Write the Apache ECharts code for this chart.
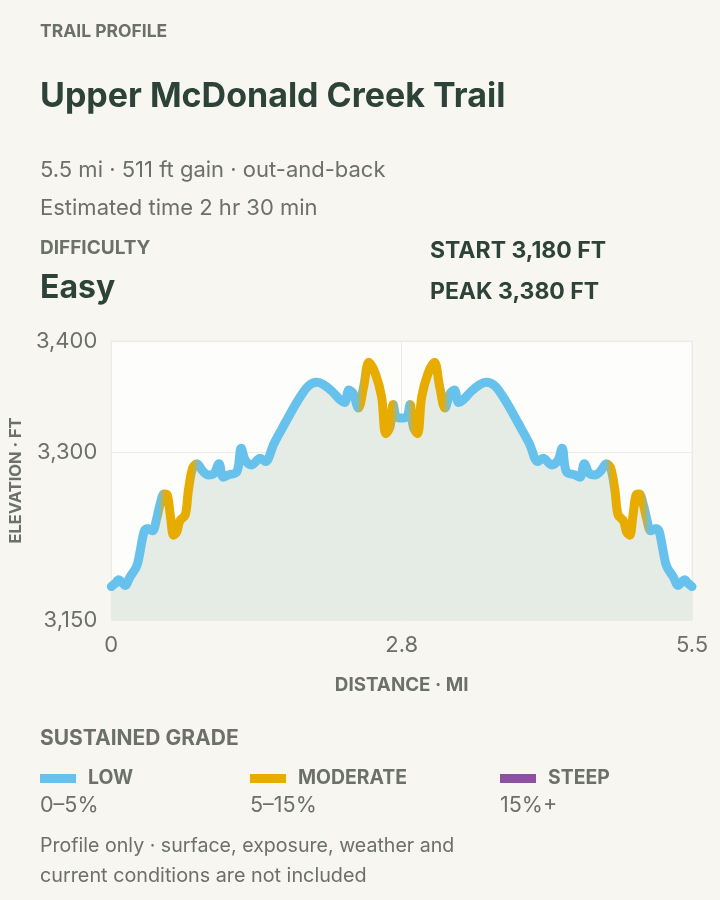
<!DOCTYPE html>
<html><head><meta charset="utf-8">
<script src="https://cdn.jsdelivr.net/npm/echarts@6/dist/echarts.min.js"></script>
<style>html,body{margin:0;padding:0;background:#f7f6f1;} #chart{width:720px;height:900px;}</style>
</head><body><div id="chart"></div>
<script>
// ---- data ----
const distanceMi = [0.00,0.04,0.07,0.10,0.13,0.18,0.24,0.27,0.31,0.34,0.39,0.43,0.46,0.50,0.53,0.56,0.59,0.62,0.65,0.70,0.73,0.77,0.81,0.87,0.92,0.97,1.02,1.06,1.11,1.19,1.23,1.27,1.33,1.41,1.46,1.54,1.62,1.69,1.79,1.87,1.95,2.01,2.09,2.17,2.21,2.25,2.29,2.34,2.39,2.44,2.50,2.56,2.60,2.64,2.67,2.70,2.75,
  2.80,2.83,2.86,2.90,2.94,3.00,3.06,3.11,3.16,3.21,3.25,3.29,3.33,3.41,3.49,3.55,3.63,3.71,3.81,3.88,3.96,4.04,4.09,4.17,4.23,4.27,4.31,4.39,4.44,4.48,4.53,4.58,4.63,4.69,4.73,4.77,4.80,4.85,4.88,4.91,4.94,4.97,5.00,5.04,5.07,5.11,5.16,5.19,5.23,5.26,5.32,5.37,5.40,5.43,5.46,5.50];
const elevationFt = [3180,3183,3186,3184,3181,3189,3198,3210,3229,3232,3230,3241,3253,3263,3262,3243,3226,3229,3239,3244,3266,3286,3290,3283,3280,3281,3290,3278,3280,3283,3304,3293,3289,3295,3292,3308,3322,3334,3350,3360,3363,3361,3355,3347,3345,3356,3353,3340,3359,3381,3371,3350,3317,3323,3343,3332,3331,
  3332,3343,3323,3317,3350,3371,3381,3359,3340,3353,3356,3345,3347,3355,3361,3363,3360,3350,3334,3322,3308,3292,3295,3289,3293,3304,3283,3280,3278,3290,3281,3280,3283,3290,3286,3266,3244,3239,3229,3226,3243,3262,3263,3253,3241,3230,3232,3229,3210,3198,3189,3181,3184,3186,3183,3180];
// stretches of the trail (in miles) drawn as moderate grade
const moderateSegmentsMi = [[0.48,0.80],[2.35,2.69],[2.83,3.17],[4.71,5.06]];
const xTicksMi = [0, 2.75, 5.5];
const yTicksFt = [3150, 3300, 3400];
const gradeNames = ['LOW', 'MODERATE', 'STEEP'];
const gradeRanges = ['0–5%', '5–15%', '15%+'];
const trailName = 'Upper McDonald Creek Trail';
const summaryLines = ['5.5 mi · 511 ft gain · out-and-back', 'Estimated time 2 hr 30 min'];
const difficulty = 'Easy';
const startFt = 3180, peakFt = 3380;

// ---- styles ----
const FONT = 'Inter, "Noto Sans", sans-serif';
const C_DARK = '#2d4339';
const C_GRAY = '#6c7168';
const C_LOW = '#66c1ec';
const C_MOD = '#e8ab00';
const C_STEEP = '#8e50a0';
const TRANS = 0.035;

const xMin = xTicksMi[0], xMax = xTicksMi[xTicksMi.length - 1];
const fmtFt = v => v.toLocaleString('en-US');

const chart = echarts.init(document.getElementById('chart'), null, {renderer: 'canvas'});

function gradientStops() {
  const span = xMax - xMin;
  const stops = [{offset: 0, color: C_LOW}];
  moderateSegmentsMi.forEach(([a, b]) => {
    stops.push({offset: (a - TRANS - xMin) / span, color: C_LOW});
    stops.push({offset: (a + TRANS - xMin) / span, color: C_MOD});
    stops.push({offset: (b - TRANS - xMin) / span, color: C_MOD});
    stops.push({offset: (b + TRANS - xMin) / span, color: C_LOW});
  });
  stops.push({offset: 1, color: C_LOW});
  return stops;
}

const txt = (x, y, text, size, weight, color, extra) => Object.assign({
  type: 'text', x: x, y: y, silent: true,
  style: Object.assign({text: text, fontSize: size, fontWeight: weight, fontFamily: FONT, fill: color, verticalAlign: 'middle', align: 'left'}, extra || {})
});

const graphics = [
  txt(40, 32, 'TRAIL PROFILE', 17.5, 700, C_GRAY),
  txt(40, 97, trailName, 34, 700, C_DARK),
  txt(40, 170, summaryLines[0], 22, 400, C_GRAY),
  txt(40, 208, summaryLines[1], 22, 400, C_GRAY),
  txt(40, 248, 'DIFFICULTY', 19, 700, C_GRAY),
  txt(40, 288, difficulty, 32, 700, C_DARK),
  txt(430, 251, 'START ' + fmtFt(startFt) + ' FT', 23, 700, C_DARK),
  txt(430, 292, 'PEAK ' + fmtFt(peakFt) + ' FT', 23, 700, C_DARK),
  txt(40, 739, 'SUSTAINED GRADE', 21, 700, C_GRAY),
  txt(40, 846, 'Profile only · surface, exposure, weather and', 19.6, 400, C_GRAY),
  txt(40, 876, 'current conditions are not included', 19.8, 400, C_GRAY)
];
const swatchColors = [C_LOW, C_MOD, C_STEEP];
const legendX = [40, 250, 500];
gradeNames.forEach((n, i) => {
  graphics.push({type: 'rect', silent: true, shape: {x: legendX[i], y: 774, width: 36, height: 9}, style: {fill: swatchColors[i]}});
  graphics.push(txt(legendX[i] + 48, 778, n, 19.4, 700, C_GRAY));
  graphics.push(txt(legendX[i], 806, gradeRanges[i], 21.5, 400, C_GRAY));
});

const option = {
  backgroundColor: '#f7f6f1',
  animation: false,
  textStyle: {fontFamily: FONT},
  graphic: graphics,
  grid: {left: 111, right: 28, top: 341, bottom: 280, show: true, backgroundColor: '#fdfdfb', borderColor: '#eeede8', borderWidth: 1},
  xAxis: {
    type: 'value', min: xMin, max: xMax, interval: xTicksMi[1] - xTicksMi[0],
    name: 'DISTANCE · MI', nameLocation: 'middle', nameGap: 56,
    nameTextStyle: {fontSize: 18.8, fontWeight: 700, color: C_GRAY, fontFamily: FONT},
    axisLine: {show: false}, axisTick: {show: false},
    axisLabel: {fontSize: 22, color: C_GRAY, margin: 14, fontFamily: FONT, formatter: v => v.toFixed(1).replace(/^0\.0$/, '0')},
    splitLine: {show: true, lineStyle: {color: '#ebeae5', width: 1}}
  },
  yAxis: {
    type: 'value', min: yTicksFt[0], max: yTicksFt[yTicksFt.length - 1],
    name: 'ELEVATION · FT', nameLocation: 'middle', nameGap: 83,
    nameTextStyle: {fontSize: 16.5, fontWeight: 700, color: C_GRAY, fontFamily: FONT},
    axisLine: {show: false},
    axisTick: {show: false, customValues: yTicksFt},
    axisLabel: {fontSize: 22, color: C_GRAY, margin: 14, fontFamily: FONT, customValues: yTicksFt, formatter: v => fmtFt(v)},
    splitLine: {show: true, lineStyle: {color: '#ebeae5', width: 1}}
  },
  series: [{
    type: 'line',
    data: distanceMi.map((d, i) => [d, elevationFt[i]]),
    showSymbol: false,
    smooth: 0.35,
    clip: false,
    lineStyle: {width: 9, cap: 'round', join: 'round', color: C_LOW},
    areaStyle: {color: '#e5ece5', opacity: 1}
  }]
};
chart.setOption(option);

// global horizontal gradient aligned to the x axis
const p0 = chart.convertToPixel({xAxisIndex: 0}, xMin);
const p1 = chart.convertToPixel({xAxisIndex: 0}, xMax);
chart.setOption({series: [{lineStyle: {color: new echarts.graphic.LinearGradient(p0, 0, p1, 0, gradientStops(), true)}}]});
</script>
</body></html>
